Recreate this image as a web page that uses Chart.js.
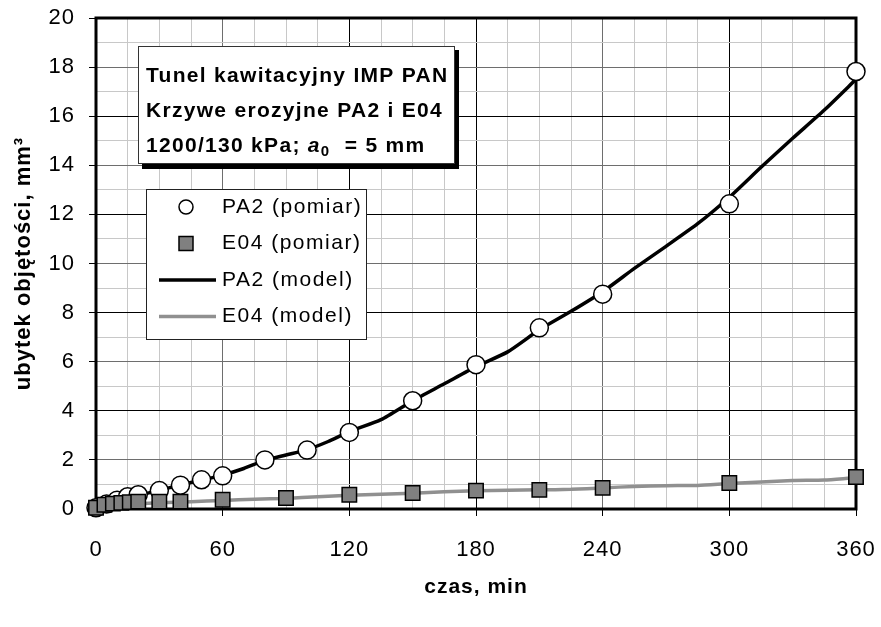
<!DOCTYPE html>
<html>
<head>
<meta charset="utf-8">
<script src="https://cdn.jsdelivr.net/npm/chart.js@4/dist/chart.umd.min.js"></script>
<style>
  html, body { margin: 0; padding: 0; background: #fff; }
  #wrap { width: 881px; height: 627px; }
</style>
</head>
<body>
<div id="wrap"><canvas id="erosionChart" width="881" height="627"></canvas></div>
<script>
// measured points (time in min, volume loss in mm3)
var pa2Time = [0, 5, 10, 15, 20, 30, 40, 50, 60, 80, 100, 120, 150, 180, 210, 240, 300, 360];
var pa2Loss = [0.05, 0.2, 0.36, 0.5, 0.58, 0.75, 0.97, 1.19, 1.35, 2.0, 2.4, 3.12, 4.41, 5.88, 7.38, 8.75, 12.43, 17.82];
var e04Time = [0, 4, 8, 12, 16, 20, 30, 40, 60, 90, 120, 150, 180, 210, 240, 300, 360];
var e04Loss = [0.05, 0.17, 0.22, 0.25, 0.28, 0.3, 0.3, 0.3, 0.38, 0.45, 0.58, 0.65, 0.75, 0.78, 0.86, 1.06, 1.3];

// model curves
var pa2ModelTime = [0, 10, 20, 30, 40, 50, 60, 70, 80, 90, 100, 110, 120, 135, 150, 165, 180, 195, 210, 225, 240, 255, 270, 285, 300, 315, 330, 345, 360];
var pa2ModelLoss = [0.0, 0.3, 0.55, 0.76, 0.98, 1.18, 1.38, 1.65, 1.98, 2.2, 2.42, 2.75, 3.15, 3.64, 4.41, 5.1, 5.8, 6.4, 7.3, 8.05, 8.85, 9.8, 10.7, 11.62, 12.7, 13.92, 15.1, 16.25, 17.5];
var e04ModelTime = [0, 15, 30, 45, 60, 75, 90, 105, 120, 135, 150, 165, 180, 195, 210, 225, 240, 255, 270, 285, 300, 315, 330, 345, 360, 365];
var e04ModelLoss = [0.05, 0.18, 0.25, 0.3, 0.35, 0.4, 0.43, 0.5, 0.56, 0.6, 0.64, 0.7, 0.74, 0.76, 0.78, 0.8, 0.86, 0.92, 0.95, 0.96, 1.04, 1.1, 1.16, 1.18, 1.27, 1.28];

var xMajor = 60, yMajor = 2;
var legendLabels = ["PA2 (pomiar)", "E04 (pomiar)", "PA2 (model)", "E04 (model)"];
var noteLines = ["Tunel kawitacyjny IMP PAN", "Krzywe erozyjne PA2 i E04"];

function pairs(xs, ys) {
  return xs.map(function (x, i) { return { x: x, y: ys[i] }; });
}

var FONT = "'Liberation Sans', Arial, sans-serif";

function majorColor(value, step) {
  if (value % step !== 0) return '#c8c8c8';
  // every other major line is darker in the original
  if (step === xMajor) return (value === 60 || value === 240) ? '#6e6e6e' : '#000';
  return (value / step) % 2 === 0 ? '#000' : '#6e6e6e';
}

var decorPlugin = {
  id: 'decor',
  beforeDraw: function (chart) {
    // the original text is spaced out a bit
    chart.ctx.letterSpacing = '1px';
  },
  beforeDatasetsDraw: function (chart) {
    var a = chart.chartArea, ctx = chart.ctx;
    ctx.save();
    ctx.strokeStyle = '#000';
    ctx.lineWidth = 3;
    ctx.strokeRect(a.left, a.top, a.right - a.left, a.bottom - a.top);
    ctx.restore();
  },
  afterDatasetsDraw: function (chart) {
    var ctx = chart.ctx;
    ctx.save();
    // note box with shadow
    ctx.fillStyle = '#000';
    ctx.fillRect(142, 50, 317, 119);
    ctx.fillStyle = '#fff';
    ctx.fillRect(138, 46, 317, 118);
    ctx.strokeStyle = '#333';
    ctx.lineWidth = 1;
    ctx.strokeRect(138.5, 46.5, 316, 117);
    ctx.fillStyle = '#000';
    ctx.textBaseline = 'middle';
    ctx.textAlign = 'left';
    ctx.letterSpacing = '1.3px';
    ctx.font = 'bold 21px ' + FONT;
    ctx.fillText(noteLines[0], 146, 76);
    ctx.fillText(noteLines[1], 146, 111);
    var x = 146, y = 146;
    var s1 = '1200/130 kPa; ';
    ctx.fillText(s1, x, y); x += ctx.measureText(s1).width;
    ctx.font = 'italic bold 21px ' + FONT;
    ctx.fillText('a', x, y); x += ctx.measureText('a').width;
    ctx.font = 'bold 15px ' + FONT;
    ctx.fillText('0', x, y + 6); x += ctx.measureText('0').width;
    ctx.font = 'bold 21px ' + FONT;
    ctx.fillText('  = 5 mm', x, y);

    // legend box
    ctx.fillStyle = '#fff';
    ctx.fillRect(146, 189, 221, 151);
    ctx.strokeStyle = '#222';
    ctx.strokeRect(146.5, 189.5, 220, 150);
    var rows = [207, 243.5, 280, 316.5];
    ctx.letterSpacing = '1.5px';
    ctx.font = '21px ' + FONT;
    ctx.fillStyle = '#000';
    for (var i = 0; i < legendLabels.length; i++) {
      ctx.fillText(legendLabels[i], 222, rows[i]);
    }
    ctx.lineWidth = 1.5;
    ctx.strokeStyle = '#000';
    ctx.fillStyle = '#fff';
    ctx.beginPath(); ctx.arc(186, rows[0], 7, 0, Math.PI * 2); ctx.fill(); ctx.stroke();
    ctx.fillStyle = '#808080';
    ctx.fillRect(179, rows[1] - 7, 14, 14); ctx.strokeRect(179, rows[1] - 7, 14, 14);
    ctx.lineWidth = 3.5;
    ctx.beginPath(); ctx.moveTo(159, rows[2]); ctx.lineTo(216, rows[2]); ctx.stroke();
    ctx.strokeStyle = '#909090';
    ctx.beginPath(); ctx.moveTo(159, rows[3]); ctx.lineTo(216, rows[3]); ctx.stroke();
    ctx.restore();
  }
};

new Chart(document.getElementById("erosionChart"), {
  type: 'scatter',
  data: {
    datasets: [
      {
        label: legendLabels[1],
        data: pairs(e04Time, e04Loss),
        showLine: false,
        pointStyle: 'rect',
        pointRadius: 10.2,
        pointBackgroundColor: '#808080',
        pointBorderColor: '#000',
        pointBorderWidth: 1.5,
        clip: false,
        order: 0
      },
      {
        label: legendLabels[0],
        data: pairs(pa2Time, pa2Loss),
        showLine: false,
        pointStyle: 'circle',
        pointRadius: 9,
        pointBackgroundColor: '#fff',
        pointBorderColor: '#000',
        pointBorderWidth: 1.5,
        clip: false,
        order: 1
      },
      {
        label: legendLabels[2],
        data: pairs(pa2ModelTime, pa2ModelLoss),
        showLine: true,
        borderColor: '#000',
        borderWidth: 3.5,
        pointRadius: 0,
        tension: 0.2,
        order: 2
      },
      {
        label: legendLabels[3],
        data: pairs(e04ModelTime, e04ModelLoss),
        showLine: true,
        borderColor: '#909090',
        borderWidth: 3.5,
        pointRadius: 0,
        tension: 0.2,
        clip: false,
        order: 3
      }
    ]
  },
  options: {
    responsive: false,
    animation: false,
    events: [],
    layout: { padding: { top: 18, right: 25, left: 0, bottom: 0 } },
    plugins: { legend: { display: false }, tooltip: { enabled: false } },
    scales: {
      x: {
        type: 'linear',
        min: 0,
        max: 360,
        afterFit: function (s) { s.height = 118; s.paddingLeft = 0; s.paddingRight = 0; },
        border: { display: false },
        grid: {
          color: function (c) { return majorColor(c.tick.value, xMajor); },
          tickColor: function (c) { return c.tick.value % xMajor === 0 ? '#000' : 'rgba(0,0,0,0)'; },
          tickLength: 7,
          lineWidth: 1
        },
        ticks: {
          stepSize: 15,
          autoSkip: false,
          maxRotation: 0,
          padding: 21,
          color: '#000',
          font: { family: FONT, size: 22 },
          callback: function (v) { return v % xMajor === 0 ? v : ''; }
        },
        title: {
          display: true,
          text: 'czas, min',
          color: '#000',
          font: { family: FONT, size: 21, weight: 'bold' },
          padding: { bottom: 27 }
        }
      },
      y: {
        type: 'linear',
        min: 0,
        max: 20,
        afterFit: function (s) { s.width = 96; s.paddingTop = 0; s.paddingBottom = 0; },
        border: { display: false },
        grid: {
          color: function (c) { return majorColor(c.tick.value, yMajor); },
          tickColor: function (c) { return c.tick.value % yMajor === 0 ? '#000' : 'rgba(0,0,0,0)'; },
          tickLength: 7,
          lineWidth: 1
        },
        ticks: {
          stepSize: 1,
          autoSkip: false,
          padding: 14,
          color: '#000',
          font: { family: FONT, size: 22 },
          callback: function (v) { return v % yMajor === 0 ? v : ''; }
        },
        title: {
          display: true,
          text: 'ubytek objętości, mm³',
          color: '#000',
          font: { family: FONT, size: 22, weight: 'bold' },
          padding: { top: 11 }
        }
      }
    }
  },
  plugins: [decorPlugin]
});
</script>
</body>
</html>
